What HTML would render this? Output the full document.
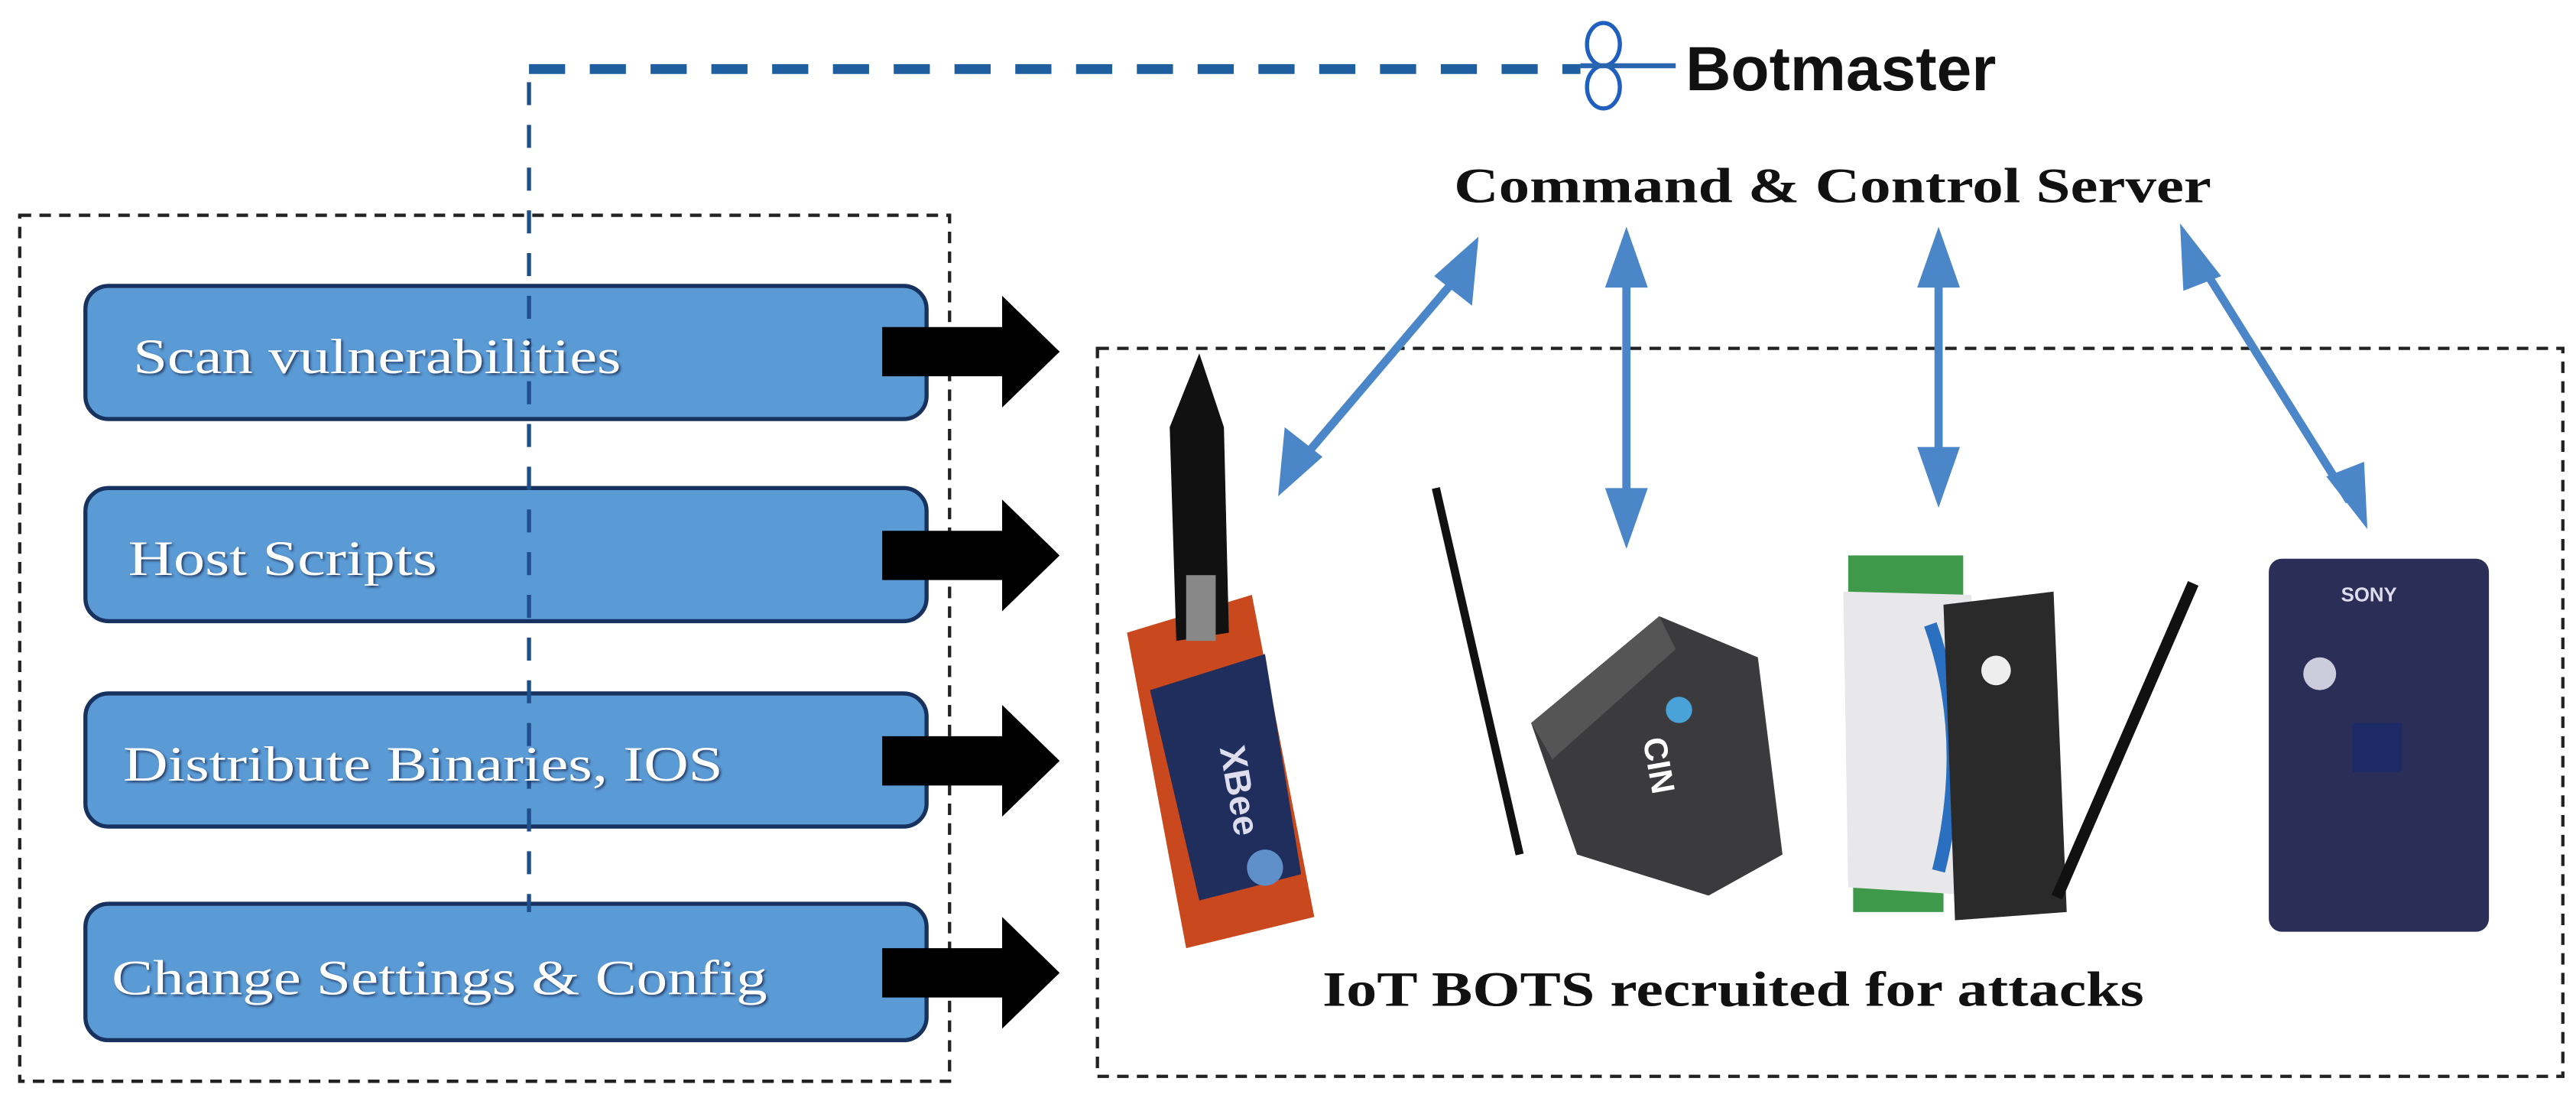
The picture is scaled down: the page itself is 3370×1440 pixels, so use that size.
<!DOCTYPE html>
<html><head><meta charset="utf-8"><style>html,body{margin:0;padding:0;background:#fff;}svg{display:block}</style></head>
<body>
<svg width="3370" height="1440" viewBox="0 0 1568 670" preserveAspectRatio="none" xmlns="http://www.w3.org/2000/svg">
<defs>
<filter id="sh" x="-5%" y="-20%" width="110%" height="140%"><feDropShadow dx="1" dy="1" stdDeviation="0.8" flood-color="#1a3358" flood-opacity="0.9"/></filter>
</defs>
<rect x="12" y="131" width="566" height="527" fill="none" stroke="#222" stroke-width="2" stroke-dasharray="7,5"/>
<rect x="668" y="212" width="892" height="443" fill="none" stroke="#222" stroke-width="2" stroke-dasharray="7,5"/>
<g stroke="#17325e" stroke-width="2.5" fill="#5b9bd5">
<rect x="52" y="174" width="512" height="81" rx="14"/>
<rect x="52" y="297" width="512" height="81" rx="14"/>
<rect x="52" y="422" width="512" height="81" rx="14"/>
<rect x="52" y="550" width="512" height="83" rx="14"/>
</g>
<line x1="322" y1="42" x2="962" y2="42" stroke="#1f5fa0" stroke-width="6" stroke-dasharray="22,15"/>
<line x1="322" y1="50" x2="322" y2="555" stroke="#1f4f8a" stroke-width="2.5" stroke-dasharray="14,12"/>
<g fill="#fff" font-family="Liberation Serif, serif" font-size="30" filter="url(#sh)">
<text x="81" y="227" textLength="297" lengthAdjust="spacingAndGlyphs">Scan vulnerabilities</text>
<text x="78" y="350" textLength="188" lengthAdjust="spacingAndGlyphs">Host Scripts</text>
<text x="75" y="475" textLength="365" lengthAdjust="spacingAndGlyphs">Distribute Binaries, IOS</text>
<text x="68" y="605" textLength="399" lengthAdjust="spacingAndGlyphs">Change Settings &amp; Config</text>
</g>
<g fill="#000">
<polygon points="537,199 610,199 610,180 645,214 610,248 610,229 537,229"/>
<polygon points="537,323 610,323 610,304 645,338 610,372 610,353 537,353"/>
<polygon points="537,448 610,448 610,429 645,463 610,497 610,478 537,478"/>
<polygon points="537,577 610,577 610,558 645,592 610,626 610,607 537,607"/>
</g>
<ellipse cx="976" cy="27" rx="10" ry="13" fill="none" stroke="#1f5fc0" stroke-width="2.5"/>
<ellipse cx="976" cy="53" rx="10" ry="13" fill="none" stroke="#1f5fc0" stroke-width="2.5"/>
<line x1="962" y1="40" x2="1020" y2="40" stroke="#2a66b0" stroke-width="3"/>
<text x="1026" y="55" font-family="Liberation Sans Narrow, Liberation Sans, sans-serif" font-weight="bold" font-size="38" textLength="189" lengthAdjust="spacingAndGlyphs" fill="#111">Botmaster</text>
<text x="885" y="123" font-family="Liberation Serif, serif" font-weight="bold" font-size="30" textLength="461" lengthAdjust="spacingAndGlyphs" fill="#111">Command &amp; Control Server</text>
<text x="805" y="612" font-family="Liberation Serif, serif" font-weight="bold" font-size="30" textLength="500" lengthAdjust="spacingAndGlyphs" fill="#111">IoT BOTS recruited for attacks</text>
<!-- xbee -->
<polygon points="686,385 762,362 800,558 722,577" fill="#c9481e"/>
<polygon points="700,420 770,398 792,532 730,548" fill="#1f2e5c"/>
<circle cx="770" cy="528" r="11" fill="#5f8fc8"/>
<text x="730" y="470" font-family="Liberation Sans, sans-serif" font-weight="bold" font-size="22" fill="#dde" transform="rotate(80 745 470)">XBee</text>
<polygon points="712,260 730,215 745,260 748,385 716,390" fill="#111"/>
<rect x="722" y="350" width="18" height="40" fill="#888"/>
<!-- black box -->
<line x1="874" y1="297" x2="925" y2="520" stroke="#111" stroke-width="5"/>
<polygon points="932,440 1010,375 1070,400 1085,520 1040,545 960,520" fill="#3b3b3e"/>
<polygon points="932,440 1010,375 1020,395 945,462" fill="#555"/>
<circle cx="1022" cy="432" r="8" fill="#4aa3d8"/>
<text x="1000" y="450" font-family="Liberation Sans, sans-serif" font-weight="bold" font-size="20" fill="#fff" transform="rotate(80 1000 450)">CIN</text>
<!-- din module -->
<rect x="1125" y="338" width="70" height="25" fill="#3e9a4a"/>
<rect x="1128" y="525" width="55" height="30" fill="#3e9a4a"/>
<polygon points="1122,360 1200,362 1205,545 1125,540" fill="#e8e8ea"/>
<path d="M1175,380 Q1200,450 1180,530" stroke="#2b6fc0" stroke-width="8" fill="none"/>
<polygon points="1183,368 1250,360 1258,555 1190,560" fill="#2a2a2a"/>
<circle cx="1215" cy="408" r="9" fill="#eee"/>
<line x1="1335" y1="355" x2="1252" y2="546" stroke="#111" stroke-width="7"/>
<!-- sony board -->
<rect x="1381" y="340" width="134" height="227" rx="8" fill="#2b2f58"/>
<rect x="1432" y="440" width="30" height="30" fill="#1c2a66"/>
<circle cx="1412" cy="410" r="10" fill="#ccd"/>
<text x="1425" y="366" font-family="Liberation Sans, sans-serif" font-weight="bold" font-size="12" fill="#dde">SONY</text>
<!-- blue double arrows -->
<g stroke="#4a86c8" stroke-width="5" fill="#4a86c8">
<line x1="890" y1="165" x2="788" y2="285"/>
<line x1="990" y1="160" x2="990" y2="315"/>
<line x1="1180" y1="160" x2="1180" y2="290"/>
<line x1="1338" y1="158" x2="1430" y2="305"/>
</g>
<g fill="#4a86c8">
<polygon points="900,144 896,186 873,168"/>
<polygon points="778,302 782,260 805,278"/>
<polygon points="990,138 977,175 1003,175"/>
<polygon points="990,334 977,297 1003,297"/>
<polygon points="1180,138 1167,175 1193,175"/>
<polygon points="1180,309 1167,272 1193,272"/>
<polygon points="1327,136 1352,168 1329,177"/>
<polygon points="1441,322 1416,290 1439,281"/>
</g>
</svg>
</body></html>
